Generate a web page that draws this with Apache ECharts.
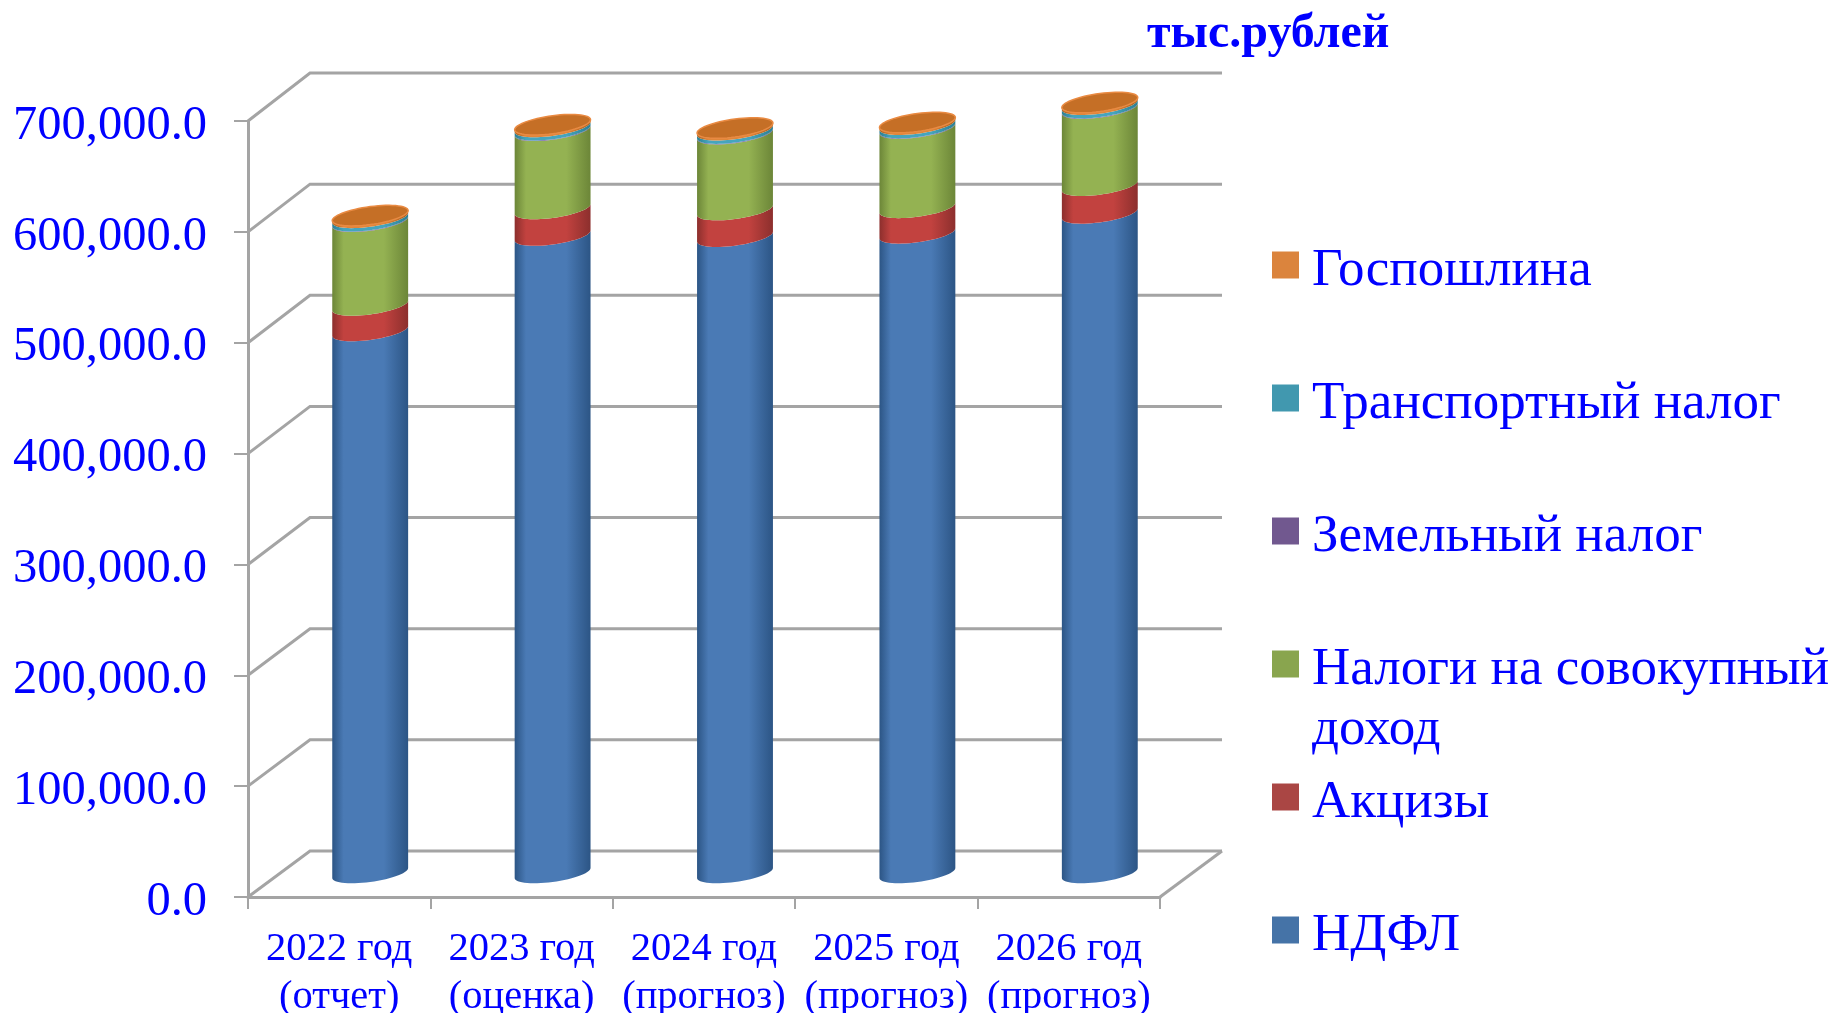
<!DOCTYPE html>
<html>
<head>
<meta charset="utf-8">
<style>html,body{margin:0;padding:0;background:#fff}#c{width:1835px;height:1013px}</style>
<script src="https://cdn.jsdelivr.net/npm/echarts@6/dist/echarts.min.js"></script>
</head>
<body>
<div id="c"></div>
<script>
const categories = ['2022 год\n(отчет)','2023 год\n(оценка)','2024 год\n(прогноз)','2025 год\n(прогноз)','2026 год\n(прогноз)'];
const ndfl      = [489000,575000,574000,577000,595000];
const akcizy    = [23000,24000,24000,23000,25000];
const sovokup   = [75500,70500,68500,71500,69500];
const zemelny   = [500,500,500,500,500];
const transport = [3000,3000,3000,3000,3000];
const gosposhl  = [2000,2000,2000,2000,2000];
const gridTicks = [0,100000,200000,300000,400000,500000,600000,700000];

const seriesDefs = [
  {name:'НДФЛ', values:ndfl, edge:'#2c5585', mid:'#4a7ab5', legend:'#4573a7'},
  {name:'Акцизы', values:akcizy, edge:'#8c2f2d', mid:'#c2423f', legend:'#aa4644'},
  {name:'Налоги на совокупный доход', values:sovokup, edge:'#6c8638', mid:'#94b252', legend:'#89a54e'},
  {name:'Земельный налог', values:zemelny, edge:'#4d3a6e', mid:'#7a62a6', legend:'#71588f'},
  {name:'Транспортный налог', values:transport, edge:'#2c7f92', mid:'#45a5bd', legend:'#4198af'},
  {name:'Госпошлина', values:gosposhl, edge:'#a85d1c', mid:'#e0863a', legend:'#db843d'}
];
const DX = 62, DY = -48;
const BAR_RATIO = 0.208, TILT = 5, MINOR = 9;
const backDy = v => DY + 2*(1 - v/700000);

function arcPoints(cx, cy, a, from, to, n){
  const pts = [];
  for(let i=0;i<=n;i++){
    const t = from + (to-from)*i/n;
    pts.push([cx + a*Math.cos(t), cy + MINOR*Math.sin(t) - TILT*Math.cos(t)]);
  }
  return pts;
}
function bodyFill(def){
  return new echarts.graphic.LinearGradient(0,0,1,0,[
    {offset:0,color:def.edge},{offset:0.15,color:def.mid},{offset:0.68,color:def.mid},
    {offset:1,color:def.edge}]);
}
function makeSeries(def, idx){
  const base = categories.map((_,i)=>seriesDefs.slice(0,idx).reduce((s,d)=>s+d.values[i],0));
  return {
    name:def.name, type:'custom', coordinateSystem:'cartesian2d', z:5+idx, clip:false,
    itemStyle:{color:def.legend}, encode:{x:0,y:2},
    data:def.values.map((v,i)=>[i,base[i],base[i]+v]),
    renderItem(params, api){
      const i = api.value(0);
      const p0 = api.coord([i, api.value(1)]);
      const p1 = api.coord([i, api.value(2)]);
      const a = api.size([1,0])[0]*BAR_RATIO;
      const cx = p0[0]+DX/2, y0 = p0[1]+DY/2, y1 = p1[1]+DY/2;
      const bottom = arcPoints(cx,y0,a,0,Math.PI,30);
      const top = arcPoints(cx,y1,a,Math.PI,0,30);
      const children = [{type:'polygon',shape:{points:bottom.concat(top)},style:{fill:bodyFill(def)}}];
      if(idx === seriesDefs.length-1){
        children.push({type:'polygon',shape:{points:arcPoints(cx,y1,a,0,Math.PI*2,60)},
          style:{fill:'#c56f26',stroke:'#e98a42',lineWidth:1.5}});
      }
      return {type:'group',children};
    }
  };
}
const wallColor = '#a4a4a4';
const wallSeries = {
  type:'custom', coordinateSystem:'cartesian2d', z:1, clip:false, silent:true, legendHoverLink:false,
  encode:{y:1}, data:gridTicks.map(v=>[0,v]),
  renderItem(params, api){
    const cs = params.coordSys;
    const v = api.value(1);
    const y = api.coord([0,v])[1];
    const by = y + backDy(v);
    const style = {stroke:wallColor,lineWidth:3,fill:null};
    const kids = [{type:'polyline',shape:{points:[[cs.x,y],[cs.x+DX,by],[cs.x+cs.width+DX,by]]},style}];
    if(v===0) kids.push({type:'polyline',shape:{points:[[cs.x+cs.width,y],[cs.x+cs.width+DX,by]]},style});
    return {type:'group',children:kids};
  }
};
const legendRows = [
  ['Госпошлина',264.5],['Транспортный налог',397.5],['Земельный налог',530.5],
  ['Налоги на совокупный доход',663.5],['Акцизы',796.5],['НДФЛ',929.5]
];
const serif = '"Liberation Serif"';
const chart = echarts.init(document.getElementById('c'));
chart.setOption({
  animation:false,
  backgroundColor:'#fff',
  grid:{left:248,top:121,width:912,height:776,containLabel:false,outerBoundsMode:'none'},
  title:{text:'тыс.рублей',left:1147,top:11,padding:0,textStyle:{fontFamily:serif,fontWeight:'bold',fontSize:48,color:'#0000ff'}},
  xAxis:{type:'category',data:categories,
    axisLine:{lineStyle:{color:wallColor,width:3}},
    axisTick:{show:true,length:12,lineStyle:{color:wallColor,width:2}},
    axisLabel:{color:'#0000ff',fontFamily:serif,fontSize:40.5,lineHeight:48,margin:28,interval:0},
    splitLine:{show:false}},
  yAxis:{type:'value',min:0,max:700000,interval:100000,
    axisLine:{show:true,lineStyle:{color:wallColor,width:3}},
    axisTick:{show:true,length:14,lineStyle:{color:wallColor,width:2}},
    axisLabel:{margin:41,color:'#0000ff',
      rich:{v:{color:'#0000ff',fontFamily:serif,fontSize:48.5,padding:[10,0,0,0]}},
      formatter:v=>'{v|'+v.toLocaleString('en-US',{minimumFractionDigits:1,maximumFractionDigits:1})+'}'},
    splitLine:{show:false}},
  legend:legendRows.map(([name,y])=>({
    data:[{name,icon:'rect'}],left:1272,top:y-32,padding:0,itemWidth:27,itemHeight:27,itemGap:0,
    selectedMode:false,
    textStyle:{color:'#0000ff',rich:{t:{color:'#0000ff',fontFamily:serif,fontSize:53,lineHeight:60,padding:[12,0,0,8]}}},
    formatter:n=>'{t|'+(n==='Налоги на совокупный доход'?'Налоги на совокупный':n)+'}'
  })),
  graphic:[{type:'text',left:1312,top:704,style:{text:'доход',font:'53px "Liberation Serif"',fill:'#0000ff'}}],
  series:[wallSeries].concat(seriesDefs.map(makeSeries))
});
</script>
</body>
</html>
